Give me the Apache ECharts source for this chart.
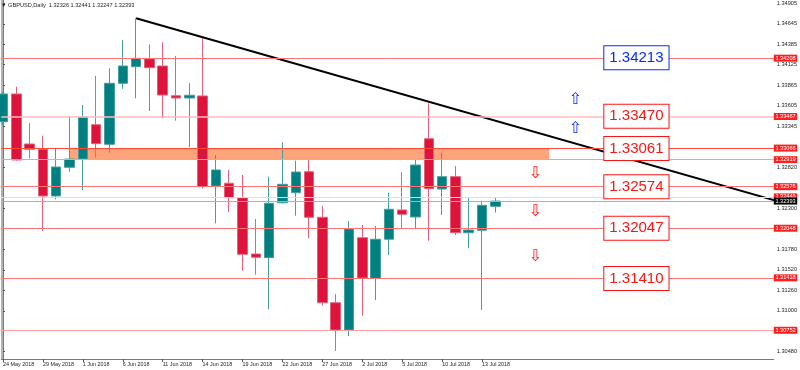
<!DOCTYPE html>
<html><head><meta charset="utf-8">
<script src="https://cdn.jsdelivr.net/npm/echarts@6/dist/echarts.min.js"></script>
<style>html,body{margin:0;padding:0;background:#fff}#c{width:800px;height:370px}</style>
</head><body><div id="c"></div>
<script>
// ---- data ----
const symbolName = 'GBPUSD,Daily';
const dates = ['24 May 2018','25 May 2018','28 May 2018','29 May 2018','30 May 2018','31 May 2018',
  '1 Jun 2018','4 Jun 2018','5 Jun 2018','6 Jun 2018','7 Jun 2018','8 Jun 2018','11 Jun 2018','12 Jun 2018',
  '13 Jun 2018','14 Jun 2018','15 Jun 2018','18 Jun 2018','19 Jun 2018','20 Jun 2018','21 Jun 2018','22 Jun 2018',
  '25 Jun 2018','26 Jun 2018','27 Jun 2018','28 Jun 2018','29 Jun 2018','2 Jul 2018','3 Jul 2018','4 Jul 2018',
  '5 Jul 2018','6 Jul 2018','9 Jul 2018','10 Jul 2018','11 Jul 2018','12 Jul 2018','13 Jul 2018','16 Jul 2018'];
const openP  = [1.33401,1.33753,1.33118,1.33051,1.32458,1.32822,1.32927,1.33363,1.33114,1.33889,1.34100,1.34201,1.34109,1.33731,1.33702,1.33728,1.32585,1.32619,1.32436,1.31721,1.31674,1.32372,1.32499,1.32766,1.32187,1.31102,1.30756,1.31928,1.31412,1.31908,1.32280,1.32191,1.33185,1.32546,1.32703,1.31991,1.32022,1.32326];
const closeP = [1.33753,1.32915,1.33051,1.32458,1.32826,1.32927,1.33461,1.33122,1.33889,1.34109,1.34206,1.34087,1.33740,1.33702,1.33737,1.32576,1.32788,1.32436,1.31717,1.31679,1.32365,1.32606,1.32762,1.32187,1.31102,1.30756,1.32038,1.31416,1.31908,1.32289,1.32225,1.32851,1.32550,1.32703,1.31991,1.32026,1.32339,1.32393];
const lowP   = [1.33359,1.32906,1.32936,1.32017,1.32416,1.32766,1.32530,1.32944,1.33008,1.33820,1.33698,1.33537,1.33444,1.33414,1.33076,1.32555,1.32111,1.32254,1.31509,1.31458,1.31019,1.32362,1.32207,1.31920,1.31064,1.30489,1.30679,1.30937,1.31137,1.31708,1.32047,1.32035,1.31890,1.32216,1.31962,1.31793,1.31010,1.32247];
const highP  = [1.33778,1.33846,1.33381,1.33223,1.33063,1.33474,1.33613,1.33982,1.34079,1.34439,1.34715,1.34384,1.34410,1.34236,1.33889,1.34460,1.32978,1.32788,1.32724,1.32165,1.32703,1.33140,1.32906,1.32924,1.32334,1.31213,1.32140,1.32089,1.32077,1.32499,1.32759,1.32915,1.33635,1.33008,1.32839,1.32441,1.32398,1.32441];
const xTickLabels = ['24 May 2018','29 May 2018','1 Jun 2018','6 Jun 2018','11 Jun 2018','14 Jun 2018','19 Jun 2018',
  '22 Jun 2018','27 Jun 2018','2 Jul 2018','5 Jul 2018','10 Jul 2018','13 Jul 2018'];
const yTickLabels = ['1.34905','1.34645','1.34385','1.34125','1.33865','1.33605','1.33345','1.32820','1.32300',
  '1.31780','1.31520','1.31260','1.31000','1.30480'];
const levelValues = [1.34208, 1.33467, 1.33066, 1.32919, 1.32576, 1.32446, 1.32048, 1.31418, 1.30752];
const currentPrice = 1.32393;
const zoneTop = 1.33066, zoneBottom = 1.32919;
const zoneFrom = '31 May 2018';
const trendStart = ['7 Jun 2018', 1.34715];
const trendSlopePerBar = -0.000482;
const boxTexts = ['1.34213','1.33470','1.33061','1.32574','1.32047','1.31410'];
const upArrowY = [1.33680, 1.33315];
const downArrowY = [1.32745, 1.32250, 1.31690];

// ---- styles / layout ----
const BAR_PX = 40 / 3;
const PLOT_W = 774;
const X_MIN = -1.7 / BAR_PX;
const X_MAX = X_MIN + PLOT_W / BAR_PX;
const Y_MAX = 1.349469, Y_MIN = 1.303872;
const FONT = 'Liberation Sans';
const levelColor = {'1.34208':'#ff7373','1.33467':'#ffbcbc','1.33066':'#ff4a38','1.32919':'#ff9c8c',
  '1.32576':'#ff7373','1.32446':'#ffd2d2','1.32048':'#ff7373','1.31418':'#ff7373','1.30752':'#ff9c9c'};
const boxColor = i => i === 0 ? '#0a2bff' : '#ff1414';
const ZONE_END = 41.05, BOX_X = 47.6, UP_X = 43.0, DOWN_X = 40.0;

const candleData = dates.map((d, i) => [i, openP[i], closeP[i], lowP[i], highP[i]]);
const ts = dates.indexOf(trendStart[0]);
const trendEnd = X_MAX + 1;
const trendData = [[ts, trendStart[1]], [trendEnd, trendStart[1] + trendSlopePerBar * (trendEnd - ts)]];
const last = dates.length - 1;

const lineLabel = (bg) => ({
  show: true, position: 'end', distance: 0,
  formatter: p => Number(p.value).toFixed(5),
  color: '#fff', backgroundColor: bg, fontSize: 5.6, fontFamily: FONT,
  padding: [0.6, 1.6, 0.4, 1.6], lineHeight: 6
});

const option = {
  animation: false,
  backgroundColor: '#fff',
  title: {
    text: '\u25BC ' + symbolName + '  ' + [openP[last], highP[last], lowP[last], closeP[last]].map(v => v.toFixed(5)).join(' '),
    left: 1, top: 2, padding: 0,
    textStyle: {fontSize: 5.6, fontWeight: 'normal', color: '#222', fontFamily: FONT}
  },
  grid: {left: 0, right: 800 - PLOT_W, top: 0, bottom: 11, containLabel: false},
  xAxis: {
    type: 'value', min: X_MIN, max: X_MAX,
    axisLine: {show: true, lineStyle: {color: '#7a7a7a', width: 1}},
    axisTick: {show: true, length: 3, customValues: xTickLabels.map(l => dates.indexOf(l)), lineStyle: {color: '#555'}},
    axisLabel: {
      customValues: xTickLabels.map(l => dates.indexOf(l)),
      formatter: v => dates[Math.round(v)] || '',
      align: 'left', margin: 3, fontSize: 5.4, color: '#222', fontFamily: FONT
    },
    splitLine: {show: false}
  },
  yAxis: [{
    type: 'value', position: 'right', min: Y_MIN, max: Y_MAX, scale: true,
    axisLine: {show: true, lineStyle: {color: '#7a7a7a', width: 1}},
    axisTick: {show: true, length: 2, customValues: yTickLabels.map(Number), lineStyle: {color: '#555'}},
    axisLabel: {
      customValues: yTickLabels.map(Number),
      formatter: v => v.toFixed(5),
      margin: 3, fontSize: 5.6, color: '#222', fontFamily: FONT
    },
    splitLine: {show: false}
  }, {
    type: 'value', position: 'left', min: Y_MIN, max: Y_MAX,
    axisLine: {show: true, lineStyle: {color: '#9a9a9a', width: 1.5}},
    axisTick: {show: false}, axisLabel: {show: false}, splitLine: {show: false}
  }],
  series: [
    {
      type: 'line', data: [], z: 1, silent: true,
      markArea: {
        silent: true,
        itemStyle: {color: 'rgba(255,150,105,0.88)'},
        data: [[{coord: [dates.indexOf(zoneFrom), zoneTop]}, {coord: [ZONE_END, zoneBottom]}]]
      },
      markLine: {
        silent: true, symbol: 'none', precision: 5,
        data: levelValues.map(v => ({
          yAxis: v,
          lineStyle: {color: levelColor[v.toFixed(5)], width: v === 1.33467 ? 1.6 : 1, type: 'solid'},
          label: lineLabel('#ff1e1e')
        })).concat([{
          yAxis: currentPrice,
          lineStyle: {color: '#a7b3b3', width: 1, type: 'solid'},
          label: lineLabel('#000')
        }])
      }
    },
    {
      type: 'candlestick', z: 3, barWidth: 10, clip: true,
      itemStyle: {color: '#008080', color0: '#dc143c', borderColor: '#44a0a0', borderColor0: '#e6607a', borderWidth: 1},
      data: candleData
    },
    {
      type: 'line', z: 4, data: trendData, showSymbol: false, clip: true, silent: true,
      lineStyle: {color: '#000', width: 2}
    },
    {
      type: 'scatter', z: 5, symbolSize: 0, silent: true, itemStyle: {opacity: 1},
      data: boxTexts.map((t, i) => ({
        value: [BOX_X, Number(t)],
        label: {
          show: true, position: 'inside', formatter: t, fontSize: 15, fontFamily: FONT,
          color: boxColor(i), backgroundColor: '#fff', borderColor: boxColor(i), borderWidth: 1,
          padding: [4, 5, 3, 5], lineHeight: 16, opacity: 1
        }
      }))
    },
    {
      type: 'scatter', z: 5, symbolSize: 0, silent: true, itemStyle: {opacity: 1},
      data: upArrowY.map(y => ({value: [UP_X, y],
        label: {show: true, position: 'inside', formatter: '\u21E7', fontSize: 16, color: '#0a2bff', fontFamily: 'DejaVu Sans', opacity: 1}}))
        .concat(downArrowY.map(y => ({value: [DOWN_X, y],
        label: {show: true, position: 'inside', formatter: '\u21E9', fontSize: 16, color: '#ff1414', fontFamily: 'DejaVu Sans', opacity: 1}})))
    }
  ]
};
echarts.init(document.getElementById('c'), null, {renderer: 'canvas'}).setOption(option);
</script></body></html>
